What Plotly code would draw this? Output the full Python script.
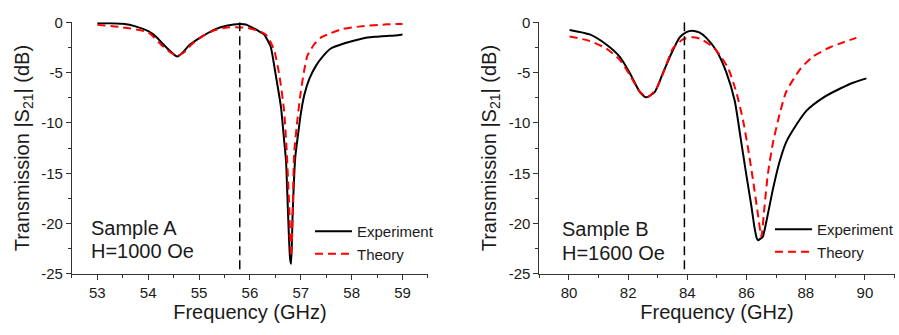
import plotly.graph_objects as go

# ---------------- data ----------------
# Panel A (Sample A, H=1000 Oe)
freq_a_exp = [53.0, 53.25, 53.5, 53.75, 54.0, 54.15, 54.3, 54.44, 54.57, 54.68, 54.8, 55.03, 55.3,
              55.56, 55.8, 55.92, 56.02, 56.15, 56.28, 56.35, 56.41, 56.51, 56.61, 56.67, 56.71,
              56.75, 56.79, 56.81, 56.84, 56.89, 56.95, 57.0, 57.07, 57.17, 57.3, 57.43, 57.59,
              57.85, 58.1, 58.31, 58.5, 58.7, 58.85, 59.0]
s21_a_exp = [-0.1, -0.08, -0.15, -0.4, -0.88, -1.4, -2.2, -2.9, -3.4, -3.0, -2.3, -1.5, -0.72,
             -0.31, -0.17, -0.22, -0.45, -0.8, -1.2, -1.8, -2.45, -5.3, -8.4, -11.6, -13.8,
             -19.1, -23.5, -24.0, -19.1, -13.5, -11.0, -9.1, -7.2, -5.6, -4.3, -3.4, -2.6,
             -2.1, -1.75, -1.5, -1.42, -1.35, -1.3, -1.2]

freq_a_th = [53.0, 53.5, 54.0, 54.25, 54.44, 54.57, 54.7, 54.85, 55.03, 55.3, 55.56, 55.82, 56.0,
             56.2, 56.31, 56.41, 56.48, 56.58, 56.67, 56.72, 56.77, 56.81, 56.84, 56.87, 56.94,
             57.0, 57.07, 57.13, 57.2, 57.26, 57.4, 57.53, 57.79, 58.18, 58.7, 59.0]
s21_a_th = [-0.25, -0.5, -1.0, -2.2, -3.0, -3.35, -3.0, -2.2, -1.5, -0.8, -0.5, -0.5, -0.6,
            -0.9, -1.2, -2.0, -2.8, -5.3, -8.7, -12.5, -18.0, -23.3, -19.0, -13.0, -9.4,
            -6.9, -4.7, -3.3, -2.7, -2.2, -1.5, -1.2, -0.7, -0.4, -0.2, -0.16]

# Panel B (Sample B, H=1600 Oe)
freq_b_exp = [80.02, 80.7, 81.26, 81.71, 82.05, 82.39, 82.61, 82.9, 83.18, 83.46, 83.74, 83.97,
              84.15, 84.4, 84.64, 84.98, 85.32, 85.6, 85.8, 85.99, 86.16, 86.27, 86.35, 86.39,
              86.47, 86.55, 86.67, 86.89, 87.12, 87.34, 87.57, 88.02, 88.58, 89.15, 89.6, 90.05]
s21_b_exp = [-0.75, -1.2, -2.2, -3.4, -5.0, -6.9, -7.45, -6.9, -5.0, -3.1, -1.5, -0.97,
             -0.83, -1.0, -1.54, -2.8, -5.0, -7.8, -11.5, -15.1, -18.2, -20.4, -21.5, -21.65,
             -21.5, -21.3, -19.8, -16.6, -13.8, -11.9, -10.7, -8.8, -7.5, -6.6, -6.0, -5.57]

freq_b_th = [80.02, 80.7, 81.26, 81.71, 82.05, 82.4, 82.65, 82.95, 83.23, 83.51, 83.85, 84.19,
             84.45, 84.8, 84.98, 85.37, 85.65, 85.88, 86.05, 86.22, 86.39, 86.5, 86.61, 86.72,
             86.89, 87.12, 87.34, 87.8, 88.24, 88.81, 89.3, 89.71]
s21_b_th = [-1.4, -1.85, -2.6, -3.7, -5.2, -6.9, -7.45, -6.6, -4.7, -2.6, -1.7, -1.47,
            -1.65, -2.3, -2.8, -4.5, -6.9, -9.7, -12.5, -15.7, -19.2, -21.3, -18.2, -15.1,
            -12.0, -9.1, -6.9, -4.7, -3.4, -2.5, -1.95, -1.54]

marker_a = [55.8, 55.8]
marker_b = [83.9, 83.9]
marker_y = [0.0, -24.6]

x_ticks_a = [53, 54, 55, 56, 57, 58, 59]
x_ticks_b = [80, 82, 84, 86, 88, 90]
y_ticks = [0, -5, -10, -15, -20, -25]
y_tick_text = ["0", "-5", "-10", "-15", "-20", "-25"]

# ---------------- figure ----------------
FONT = "Arial, Liberation Sans, sans-serif"
TXT = "#1a1a1a"
SMOOTH = 0.6
fig = go.Figure()

fig.add_trace(go.Scatter(x=freq_a_exp, y=s21_a_exp, mode="lines", name="Experiment",
                         line=dict(color="black", width=2, shape="spline", smoothing=SMOOTH),
                         xaxis="x", yaxis="y", legend="legend"))
fig.add_trace(go.Scatter(x=freq_a_th, y=s21_a_th, mode="lines", name="Theory",
                         line=dict(color="#ff0000", width=2, dash="8px,5px", shape="spline",
                                   smoothing=SMOOTH),
                         xaxis="x", yaxis="y", legend="legend"))
fig.add_trace(go.Scatter(x=marker_a, y=marker_y, mode="lines", showlegend=False,
                         line=dict(color="black", width=1.5, dash="9px,5px"), xaxis="x", yaxis="y"))

fig.add_trace(go.Scatter(x=freq_b_exp, y=s21_b_exp, mode="lines", name="Experiment",
                         line=dict(color="black", width=2, shape="spline", smoothing=SMOOTH),
                         xaxis="x2", yaxis="y2", legend="legend2"))
fig.add_trace(go.Scatter(x=freq_b_th, y=s21_b_th, mode="lines", name="Theory",
                         line=dict(color="#ff0000", width=2, dash="8px,5px", shape="spline",
                                   smoothing=SMOOTH),
                         xaxis="x2", yaxis="y2", legend="legend2"))
fig.add_trace(go.Scatter(x=marker_b, y=marker_y, mode="lines", showlegend=False,
                         line=dict(color="black", width=1.5, dash="9px,5px"), xaxis="x2", yaxis="y2"))

ydom = [0.167, 0.958]


def xaxis(domain, rng, ticks, minor, anchor):
    return dict(domain=domain, range=rng, anchor=anchor, tickvals=ticks,
                ticktext=[str(t) for t in ticks],
                showline=True, linecolor="#333", linewidth=1, mirror=False,
                ticks="outside", ticklen=5, tickwidth=1, tickcolor="#333",
                minor=dict(dtick=minor, ticks="outside", ticklen=3, tickwidth=1, tickcolor="#333"),
                showgrid=False, zeroline=False,
                tickfont=dict(family=FONT, size=15, color=TXT),
                title=dict(text="Frequency (GHz)", font=dict(family=FONT, size=20, color=TXT), standoff=4))


def yaxis(anchor):
    return dict(domain=ydom, range=[-25, 0], anchor=anchor, tickvals=y_ticks, ticktext=y_tick_text,
                showline=True, linecolor="#333", linewidth=1, mirror=False,
                ticks="outside", ticklen=5, tickwidth=1, tickcolor="#333",
                minor=dict(dtick=2.5, ticks="outside", ticklen=3, tickwidth=1, tickcolor="#333"),
                showgrid=False, zeroline=False,
                tickfont=dict(family=FONT, size=15, color=TXT),
                title=dict(text="Transmission |S<sub>21</sub>| (dB)",
                           font=dict(family=FONT, size=20, color=TXT), standoff=6))


legend_common = dict(font=dict(family=FONT, size=15, color=TXT), bgcolor="rgba(0,0,0,0)",
                     itemwidth=37, tracegroupgap=0, xanchor="left", yanchor="top")

ann_font = dict(family=FONT, size=20, color=TXT)
fig.update_layout(
    width=899, height=335,
    margin=dict(l=0, r=0, t=0, b=0),
    paper_bgcolor="white", plot_bgcolor="white",
    xaxis=xaxis([0.080, 0.476], [52.5, 59.5], x_ticks_a, 0.5, "y"),
    yaxis=yaxis("x"),
    xaxis2=xaxis([0.600, 0.995], [79, 91], x_ticks_b, 1, "y2"),
    yaxis2=yaxis("x2"),
    legend=dict(x=310 / 899, y=1 - 217 / 335, **legend_common),
    legend2=dict(x=770 / 899, y=1 - 215 / 335, **legend_common),
    annotations=[
        dict(text="Sample A", x=89 / 899, y=1 - 231 / 335, xref="paper", yref="paper",
             xanchor="left", yanchor="middle", showarrow=False, font=ann_font),
        dict(text="H=1000 Oe", x=89 / 899, y=1 - 255 / 335, xref="paper", yref="paper",
             xanchor="left", yanchor="middle", showarrow=False, font=ann_font),
        dict(text="Sample B", x=560 / 899, y=1 - 232 / 335, xref="paper", yref="paper",
             xanchor="left", yanchor="middle", showarrow=False, font=ann_font),
        dict(text="H=1600 Oe", x=560 / 899, y=1 - 257 / 335, xref="paper", yref="paper",
             xanchor="left", yanchor="middle", showarrow=False, font=ann_font),
    ],
)

fig.write_html("out.html")
